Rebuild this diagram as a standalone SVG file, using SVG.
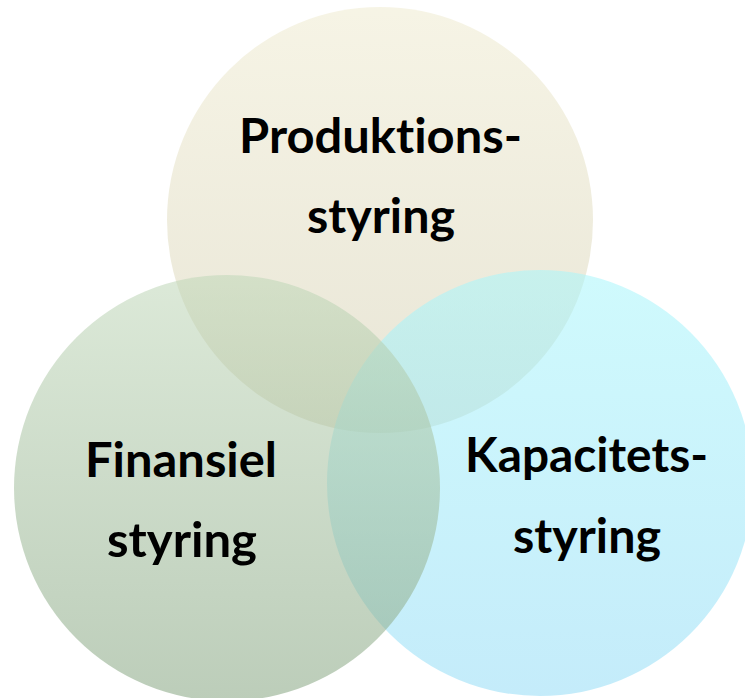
<svg xmlns="http://www.w3.org/2000/svg" width="745" height="698" viewBox="0 0 745 698">
<defs>
<linearGradient id="gTop" x1="0" y1="0" x2="0" y2="1">
<stop offset="0" stop-color="#efebd0"/>
<stop offset="1" stop-color="#d5d0b4"/>
</linearGradient>
<linearGradient id="gLeft" x1="0" y1="0" x2="0" y2="1">
<stop offset="0" stop-color="#bfd7b8"/>
<stop offset="1" stop-color="#85a480"/>
</linearGradient>
<linearGradient id="gRight" x1="0" y1="0" x2="0" y2="1">
<stop offset="0" stop-color="#a8f6fb"/>
<stop offset="1" stop-color="#94dcf6"/>
</linearGradient>
<style>
.c{fill-opacity:0.55}
.t{font-family:Lato,"Open Sans",sans-serif;font-weight:bold;font-size:47px;fill:#000;text-anchor:middle;font-variant-ligatures:none;font-feature-settings:"liga" 0}
</style>
</defs>
<rect width="745" height="698" fill="#fff"/>
<g id="produktion">
<circle class="c" cx="380" cy="220" r="213" fill="url(#gTop)"/>
</g>
<g id="kapacitet">
<circle class="c" cx="540" cy="483" r="213" fill="url(#gRight)"/>
</g>
<g id="finansiel">
<circle class="c" cx="227" cy="488" r="213" fill="url(#gLeft)"/>
</g>
<g id="labels">
<text class="t" x="380.5" y="153" textLength="283" lengthAdjust="spacingAndGlyphs">Produktions-</text>
<text class="t" x="381" y="233" textLength="148" lengthAdjust="spacingAndGlyphs">styring</text>
<text class="t" x="181" y="477" textLength="192" lengthAdjust="spacingAndGlyphs">Finansiel</text>
<text class="t" x="182" y="557" textLength="150" lengthAdjust="spacingAndGlyphs">styring</text>
<text class="t" x="586.5" y="472" textLength="243" lengthAdjust="spacingAndGlyphs">Kapacitets-</text>
<text class="t" x="587" y="553" textLength="148" lengthAdjust="spacingAndGlyphs">styring</text>
</g>
<g id="connectors"/>
</svg>
